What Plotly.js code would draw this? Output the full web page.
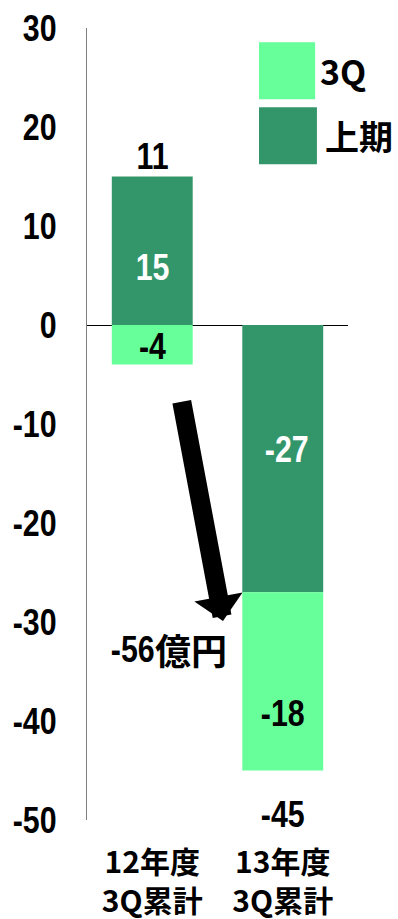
<!DOCTYPE html>
<html>
<head>
<meta charset="utf-8">
<script src="https://cdn.plot.ly/plotly-3.0.1.min.js"></script>
<style>
  html, body { margin: 0; padding: 0; background: #ffffff; }
  #chart { width: 398px; height: 919px; }
</style>
</head>
<body>
<div id="chart"></div>
<script>
// Categories and series (億円)
const categories = ['12年度<br>3Q累計', '13年度<br>3Q累計'];
const firstHalf = [15, -27];      // 上期
const thirdQuarter = [-4, -18];   // 3Q
const seriesNames = ['上期', '3Q'];
const yTickValues = [-50, -40, -30, -20, -10, 0, 10, 20, 30];
const yTickLabels = ['-50', '-40', '-30', '-20', '-10', '0', '10', '20', '30'];
const unitLabel = '億円';

const DARK = '#33966A';
const LIGHT = '#66FF99';
const SANS = '"Liberation Sans", Arial, sans-serif';
const GOTHIC = '"Noto Sans CJK JP", "Noto Sans CJK SC", sans-serif';
const NUM_SIZE = 37;

// Vertical pixel nudges for the segment labels, per series / category
const labelNudge = [[-17, 9], [-2, -32]];

const series = [
  { name: seriesNames[0], values: firstHalf, color: DARK, labelColor: '#ffffff' },
  { name: seriesNames[1], values: thirdQuarter, color: LIGHT, labelColor: '#000000' }
];

const traces = series.map(s => ({
  type: 'bar',
  name: s.name,
  x: categories,
  y: s.values,
  marker: { color: s.color, line: { width: 0 } },
  hoverinfo: 'skip'
}));

// Segment labels placed on each stacked piece (relative stacking)
const annotations = [];
const posBase = categories.map(() => 0);
const negBase = categories.map(() => 0);
series.forEach((s, si) => {
  s.values.forEach((v, i) => {
    let mid;
    if (v >= 0) { mid = posBase[i] + v / 2; posBase[i] += v; }
    else { mid = negBase[i] + v / 2; negBase[i] += v; }
    annotations.push({
      x: categories[i], y: mid, xref: 'x', yref: 'y',
      text: String(v), showarrow: false,
      font: { family: SANS, size: NUM_SIZE, color: s.labelColor, weight: 'bold' },
      xshift: (s.labelColor === '#ffffff' && v < 0) ? 4 : 0,
      yshift: labelNudge[si][i]
    });
  });
});

// Totals above / below each stack
const totals = categories.map((c, i) => firstHalf[i] + thirdQuarter[i]);
totals.forEach((t, i) => {
  const positive = t >= 0;
  annotations.push({
    x: categories[i], y: positive ? posBase[i] : negBase[i], xref: 'x', yref: 'y',
    text: String(t), showarrow: false,
    yanchor: positive ? 'bottom' : 'top',
    yshift: positive ? -2 : -21,
    font: { family: SANS, size: NUM_SIZE, color: '#000000', weight: 'bold' }
  });
});

// Year-on-year change arrow and label (number and unit set separately)
const change = totals[1] - totals[0];
annotations.push({
  x: 0.542, y: -29.9, xref: 'x', yref: 'y',
  ax: 0.224, ay: -7.6, axref: 'x', ayref: 'y',
  text: '', showarrow: true,
  arrowhead: 1, arrowsize: 0.43, arrowwidth: 19, arrowcolor: '#000000',
  standoff: 0, startstandoff: 0
});
annotations.push({
  x: 0, y: -32.8, xref: 'x', yref: 'y', xanchor: 'right', xshift: 8,
  text: String(change), showarrow: false, borderpad: 0,
  font: { family: SANS, size: NUM_SIZE, color: '#000000', weight: 'bold' }
});
annotations.push({
  x: 0, y: -32.8, xref: 'x', yref: 'y', xanchor: 'left', xshift: 2, yshift: 1,
  text: unitLabel, showarrow: false, borderpad: 0,
  font: { family: GOTHIC, size: 36, color: '#000000', weight: 'bold' }
});

// Legend drawn as large swatches with labels
const legendItems = [
  { name: seriesNames[1], color: LIGHT, x0: 0.659, x1: 0.874, y0: 0.910, y1: 0.982, tx: 0.886 },
  { name: seriesNames[0], color: DARK, x0: 0.659, x1: 0.881, y0: 0.828, y1: 0.900, tx: 0.903 }
];
const shapes = legendItems.map(it => ({
  type: 'rect', xref: 'paper', yref: 'paper',
  x0: it.x0, x1: it.x1, y0: it.y0, y1: it.y1,
  fillcolor: it.color, line: { width: 0 }
}));
legendItems.forEach(it => {
  annotations.push({
    x: it.tx, y: (it.y0 + it.y1) / 2, xref: 'paper', yref: 'paper',
    xanchor: 'left', yanchor: 'middle', text: it.name, showarrow: false,
    font: { family: GOTHIC, size: 34, color: '#000000', weight: 'bold' }
  });
});

const layout = {
  width: 398, height: 919,
  margin: { l: 87, r: 50, t: 28, b: 99, pad: 0 },
  paper_bgcolor: '#ffffff', plot_bgcolor: '#ffffff',
  barmode: 'relative', bargap: 0.38,
  showlegend: false,
  xaxis: {
    type: 'category', showline: false, showgrid: false, zeroline: false,
    ticks: '', automargin: false, ticklabelstandoff: 22,
    tickfont: { family: GOTHIC, size: 30, color: '#000000', weight: 'bold' }
  },
  yaxis: {
    range: [-50, 30], tickvals: yTickValues, ticktext: yTickLabels, showgrid: false,
    showline: true, linecolor: '#7f7f7f', linewidth: 1,
    zeroline: true, zerolinecolor: '#000000', zerolinewidth: 1,
    ticks: '', automargin: false, ticklabelstandoff: 22,
    tickfont: { family: SANS, size: NUM_SIZE, color: '#000000', weight: 'bold' }
  },
  shapes: shapes,
  annotations: annotations
};

// Numeric labels are set in a narrow cut: squeeze their glyphs horizontally,
// keeping each label's anchor point (start / middle / end) where it was.
const SQUEEZE = 0.82;
function condenseNumbers(gd) {
  gd.querySelectorAll('svg text').forEach(t => {
    if (!/^-?\d+$/.test(t.textContent.trim())) return;
    const w = t.getComputedTextLength();
    if (!w) return;
    const bb = t.getBBox();
    const anchor = t.getAttribute('text-anchor') || 'start';
    const f = anchor === 'end' ? 1 : anchor === 'middle' ? 0.5 : 0;
    const nw = w * SQUEEZE;
    t.setAttribute('text-anchor', 'start');
    t.setAttribute('x', (bb.x + (w - nw) * f).toFixed(2));
    t.setAttribute('textLength', nw.toFixed(2));
    t.setAttribute('lengthAdjust', 'spacingAndGlyphs');
  });
}

Plotly.newPlot('chart', traces, layout, { displayModeBar: false, staticPlot: true })
  .then(gd => condenseNumbers(gd));
</script>
</body>
</html>
